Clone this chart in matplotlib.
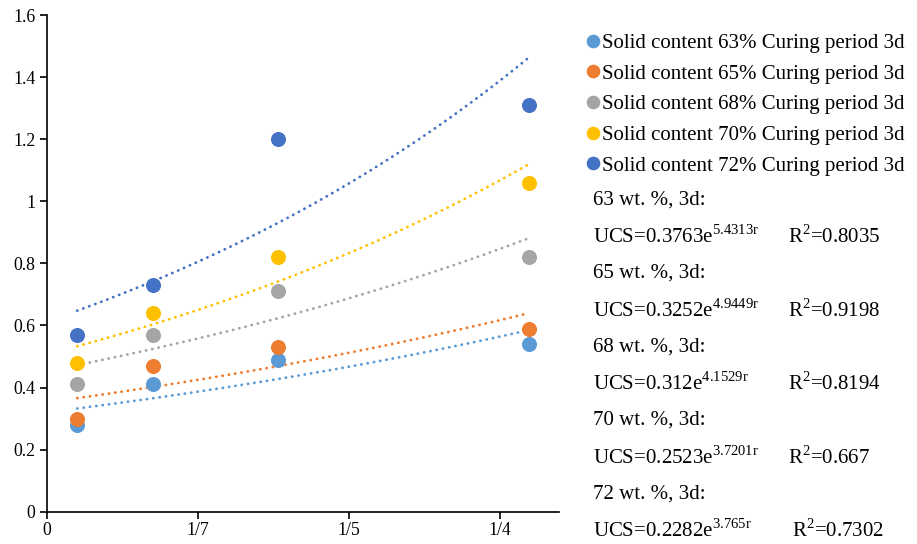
import numpy as np
import matplotlib
matplotlib.use('Agg')
import matplotlib.pyplot as plt

plt.rcParams['font.family'] = ['Liberation Serif', 'DejaVu Serif']
plt.rcParams['mathtext.fontset'] = 'custom'
plt.rcParams['mathtext.rm'] = 'Liberation Serif'

# x positions of the four samples (in axis tick units) and tick labels
x = np.array([0.2, 0.70, 1.53, 3.19])
tick_pos = [0, 1, 2, 3]
tick_labels = ['0', '1/7', '1/5', '1/4']

labels = ['Solid content 63% Curing period 3d',
          'Solid content 65% Curing period 3d',
          'Solid content 68% Curing period 3d',
          'Solid content 70% Curing period 3d',
          'Solid content 72% Curing period 3d']
ucs_63 = [0.28, 0.41, 0.49, 0.54]
ucs_65 = [0.30, 0.47, 0.53, 0.59]
ucs_68 = [0.41, 0.57, 0.71, 0.82]
ucs_70 = [0.48, 0.64, 0.82, 1.06]
ucs_72 = [0.57, 0.73, 1.20, 1.31]
colors = ['#5B9BD5', '#ED7D31', '#A5A5A5', '#FFC000', '#4472C4']

fit_names = ['63 wt. %, 3d:', '65 wt. %, 3d:', '68 wt. %, 3d:',
             '70 wt. %, 3d:', '72 wt. %, 3d:']
fit_a = ['0.3763', '0.3252', '0.312', '0.2523', '0.2282']
fit_b = ['5.4313', '4.9449', '4.1529', '3.7201', '3.765']
fit_r2 = ['0.8035', '0.9198', '0.8194', '0.667', '0.7302']

fig = plt.figure(figsize=(9.17, 5.44), dpi=100)
ax = fig.add_axes([47 / 917, 1 - 511.7 / 544, (559 - 47) / 917, (511.7 - 15) / 544])

series = [ucs_63, ucs_65, ucs_68, ucs_70, ucs_72]
handles = []
for y, c, lab in zip(series, colors, labels):
    y = np.array(y)
    h, = ax.plot(x, y, 'o', color=c, markersize=9.8, label=lab, zorder=3)
    handles.append(h)
    # exponential trendline, as Excel draws it
    b, a = np.polyfit(x, np.log(y), 1)
    xt = np.linspace(x[0], x[-1], 100)
    ax.plot(xt, np.exp(a + b * xt), color=c, lw=2.0,
            linestyle=(0, (0.1, 2.2)), dash_capstyle='round', zorder=2)

ax.set_xlim(0, 3.39)
ax.set_ylim(0, 1.6)
ax.set_xticks(tick_pos)
ax.set_xticklabels(tick_labels)
ax.set_yticks(np.arange(0, 1.61, 0.2))
ax.set_yticklabels(['0', '0.2', '0.4', '0.6', '0.8', '1', '1.2', '1.4', '1.6'])
ax.tick_params(labelsize=12.8, length=5, width=1.2, direction='out')
ax.tick_params(axis='x', pad=2.5)
for s in ['top', 'right']:
    ax.spines[s].set_visible(False)
for s in ['left', 'bottom']:
    ax.spines[s].set_linewidth(1.2)

fig.legend(handles=handles, loc='upper left', bbox_to_anchor=(587 / 917, 1 - 33.5 / 544),
           frameon=False, fontsize=15, markerscale=0.9, handlelength=0.6,
           handletextpad=0.12, labelspacing=0.53, borderaxespad=0, borderpad=0)

y0 = 200
for i in range(5):
    ya = 1 - (y0 + i * 73.5) / 544
    yb = 1 - (y0 + 36.8 + i * 73.5) / 544
    fig.text(593 / 917, ya, fit_names[i], fontsize=15, va='center')
    fig.text(593 / 917, yb, 'UCS=' + fit_a[i] + r'e$^{\mathrm{' + fit_b[i] + 'r}}$',
             fontsize=15, va='center')
    xr = 788 if i < 4 else 792
    fig.text(xr / 917, yb, r'R$^{\mathrm{2}}$=' + fit_r2[i], fontsize=15, va='center')

fig.savefig('out.png', dpi=100)
